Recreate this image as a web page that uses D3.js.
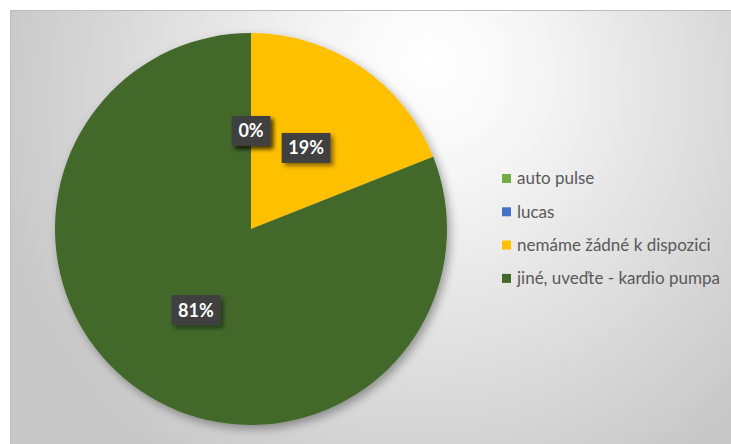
<!DOCTYPE html>
<html>
<head>
<meta charset="utf-8">
<script src="https://cdn.jsdelivr.net/npm/d3@7"></script>
<style>
  html, body { margin: 0; padding: 0; background: #ffffff; }
  svg { display: block; }
</style>
</head>
<body>
<svg id="chart" width="731" height="444"></svg>
<script>
// Device availability: share of responses per category
const categories = ["auto pulse", "lucas", "nemáme žádné k dispozici", "jiné, uveďte - kardio pumpa"];
const values = [0, 0, 19, 81];
const percentLabels = ["0%", "0%", "19%", "81%"];
const colors = ["#70AD47", "#4472C4", "#FFC000", "#43682B"];

const svg = d3.select("#chart");
const W = 731, H = 444;

const defs = svg.append("defs");

// chart-area background: soft radial fade from white to grey
const bg = defs.append("radialGradient")
  .attr("id", "bgGrad")
  .attr("gradientUnits", "userSpaceOnUse")
  .attr("cx", 420).attr("cy", 110).attr("r", 430)
  .attr("fx", 430).attr("fy", 60);
bg.append("stop").attr("offset", "0%").attr("stop-color", "#ffffff");
bg.append("stop").attr("offset", "25%").attr("stop-color", "#f6f6f6");
bg.append("stop").attr("offset", "65%").attr("stop-color", "#dddddd");
bg.append("stop").attr("offset", "100%").attr("stop-color", "#c8c8c8");

const pieShadow = defs.append("filter").attr("id", "pieShadow")
  .attr("x", "-20%").attr("y", "-20%").attr("width", "140%").attr("height", "140%");
pieShadow.append("feDropShadow")
  .attr("dx", 3).attr("dy", 4).attr("stdDeviation", 5)
  .attr("flood-color", "#000").attr("flood-opacity", 0.35);

const boxShadow = defs.append("filter").attr("id", "boxShadow")
  .attr("x", "-30%").attr("y", "-30%").attr("width", "170%").attr("height", "170%");
boxShadow.append("feDropShadow")
  .attr("dx", 3).attr("dy", 3).attr("stdDeviation", 2)
  .attr("flood-color", "#000").attr("flood-opacity", 0.45);

svg.append("rect")
  .attr("x", 10.5).attr("y", 10.5)
  .attr("width", W + 10).attr("height", H + 10)
  .attr("fill", "url(#bgGrad)")
  .attr("stroke", "#bdbdbd").attr("stroke-width", 1);

// pie
const cx = 251, cy = 229, R = 196;
const pie = d3.pie().sort(null).value(d => d.value);
const arcs = pie(categories.map((c, i) => ({ name: c, value: values[i], label: percentLabels[i], color: colors[i] })));
const arc = d3.arc().innerRadius(0).outerRadius(R);

const g = svg.append("g").attr("transform", `translate(${cx},${cy})`);
g.append("g").attr("filter", "url(#pieShadow)")
  .selectAll("path")
  .data(arcs)
  .join("path")
  .attr("d", arc)
  .attr("fill", d => d.data.color);

// data labels in dark callout boxes at half radius
const labels = g.append("g");
arcs.forEach(d => {
  const [lx, ly] = arc.centroid(d);
  const lg = labels.append("g").attr("transform", `translate(${lx},${ly})`);
  const box = lg.append("rect").attr("fill", "#404040").attr("filter", "url(#boxShadow)");
  const t = lg.append("text")
    .attr("text-anchor", "middle")
    .attr("dy", "0.36em")
    .attr("fill", "#ffffff")
    .attr("font-family", "Lato, 'Open Sans', sans-serif")
    .attr("font-weight", "bold")
    .attr("font-size", 18)
    .text(d.data.label);
  const bb = t.node().getBBox();
  const padX = 6.5, h = 30;
  box.attr("x", -bb.width / 2 - padX).attr("y", -h / 2)
    .attr("width", bb.width + 2 * padX).attr("height", h);
});

// legend
const legend = svg.append("g").attr("transform", "translate(502,178.5)");
const items = legend.selectAll("g")
  .data(categories)
  .join("g")
  .attr("transform", (d, i) => `translate(0,${i * 33.3})`);
items.append("rect")
  .attr("x", 0).attr("y", -4.5).attr("width", 9).attr("height", 9)
  .attr("fill", (d, i) => colors[i]);
items.append("text")
  .attr("x", 15).attr("dy", "0.35em")
  .attr("fill", "#595959")
  .attr("font-family", "Lato, sans-serif")
  .attr("font-size", 17)
  .text(d => d);
</script>
</body>
</html>
